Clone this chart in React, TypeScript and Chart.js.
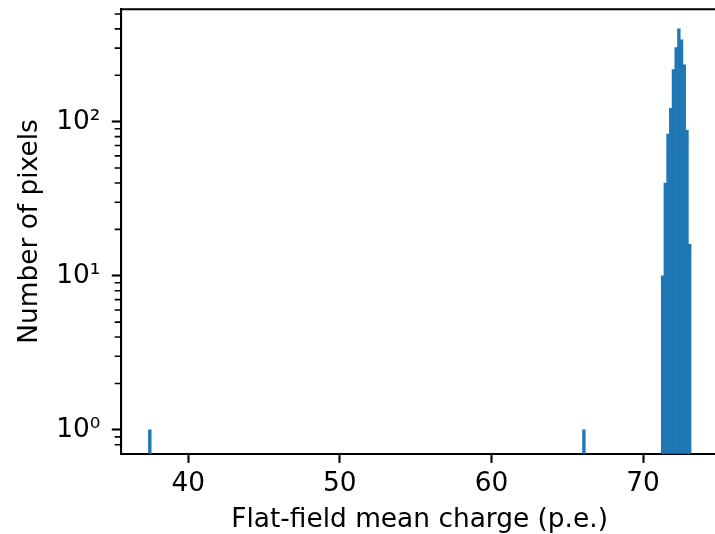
import React, { useEffect, useRef } from 'react';
import { Chart, registerables } from 'chart.js';

Chart.register(...registerables);

// Histogram bins (bin centres, width ≈ 0.179 p.e.) with non-zero counts
const binCenters = [37.46, 66.1, 71.291, 71.47, 71.649, 71.828, 72.007, 72.186, 72.365, 72.544, 72.723, 72.902, 73.081];
const pixelCounts = [1, 1, 10, 40, 83, 122, 218, 302, 400, 340, 234, 88, 16];

const xTicks = [40, 50, 60, 70];
const yMajorTicks = [1, 10, 100];
const yTickLabels = ['10⁰', '10¹', '10²'];
const yMinorTicks = [0.8, 0.9, 2, 3, 4, 5, 6, 7, 8, 9, 20, 30, 40, 50, 60, 70, 80, 90, 200, 300, 400, 500];
const xLimits = [35.56, 74.96];
const yLimits = [0.745, 536];

const xTitle = 'Flat-field mean charge (p.e.)';
const yTitle = 'Number of pixels';

const FONT = "'DejaVu Sans', sans-serif";
const BAR_COLOR = '#1f77b4';
const FS = 26.4;

const spinesPlugin = {
  id: 'spines',
  afterDraw(chart: any) {
    const { ctx, chartArea: a, scales } = chart;
    ctx.save();
    ctx.strokeStyle = '#000';
    ctx.lineWidth = 2.1;
    ctx.beginPath();
    ctx.moveTo(a.left - 1.05, a.top);
    ctx.lineTo(a.right + 1.05, a.top);
    ctx.moveTo(a.right, a.top);
    ctx.lineTo(a.right, a.bottom);
    ctx.stroke();
    const y = scales.y;
    ctx.lineWidth = 1.6;
    ctx.beginPath();
    for (const v of yMinorTicks) {
      const py = y.getPixelForValue(v);
      ctx.moveTo(a.left - 5.3 - 1, py);
      ctx.lineTo(a.left, py);
    }
    ctx.stroke();
    ctx.restore();
  },
};

export default function App() {
  const ref = useRef<HTMLCanvasElement | null>(null);

  useEffect(() => {
    if (!ref.current) return;
    const chart = new Chart(ref.current, {
      type: 'bar',
      data: {
        datasets: [
          {
            data: binCenters.map((x, i) => ({ x, y: pixelCounts[i] })),
            backgroundColor: BAR_COLOR,
            borderWidth: 0,
            barPercentage: 1,
            categoryPercentage: 1,
          } as any,
        ],
      },
      options: {
        animation: false,
        responsive: false,
        devicePixelRatio: 1,
        events: [],
        layout: { padding: { left: 0, top: 9.3, right: 722 - 718.2, bottom: 0 } },
        plugins: { legend: { display: false }, tooltip: { enabled: false } },
        scales: {
          x: {
            type: 'linear',
            min: xLimits[0],
            max: xLimits[1],
            offset: false,
            bounds: 'data',
            afterBuildTicks: (s: any) => {
              s.ticks = xTicks.map((v) => ({ value: v }));
            },
            afterFit: (s: any) => {
              s.height = 534 - 453.7;
              s.paddingLeft = 0;
              s.paddingRight = 0;
            },
            ticks: {
              autoSkip: false,
              maxRotation: 0,
              minRotation: 0,
              color: '#000',
              padding: 5.9,
              font: { family: FONT, size: FS, lineHeight: 1.2 },
              callback: (v: any) => String(v),
            },
            grid: {
              offset: false,
              drawOnChartArea: false,
              tickLength: 9.2,
              tickWidth: 2.1,
              tickColor: '#000',
            },
            border: { color: '#000', width: 2.1 },
            title: {
              display: true,
              text: xTitle,
              color: '#000',
              font: { family: FONT, size: FS, lineHeight: 1 },
              padding: { top: 0, bottom: 1.1 },
            },
          },
          y: {
            type: 'logarithmic',
            min: yLimits[0],
            max: yLimits[1],
            afterBuildTicks: (s: any) => {
              s.ticks = yMajorTicks.map((v) => ({ value: v }));
            },
            afterFit: (s: any) => {
              s.width = 121;
              s.paddingTop = 0;
              s.paddingBottom = 0;
            },
            ticks: {
              autoSkip: false,
              color: '#000',
              padding: 11.5,
              font: { family: FONT, size: FS, lineHeight: 1.2 },
              callback: (v: any) => {
                const idx = yMajorTicks.indexOf(Number(v));
                return idx >= 0 ? yTickLabels[idx] : '';
              },
            },
            grid: {
              drawOnChartArea: false,
              tickLength: 9.2,
              tickWidth: 2.1,
              tickColor: '#000',
            },
            border: { color: '#000', width: 2.1 },
            title: {
              display: true,
              text: yTitle,
              color: '#000',
              font: { family: FONT, size: FS, lineHeight: 1 },
              padding: { top: 16.6, bottom: 0 },
            },
          },
        } as any,
      },
      plugins: [spinesPlugin],
    });
    return () => chart.destroy();
  }, []);

  return (
    <div
      style={{
        position: 'fixed',
        left: 0,
        top: 0,
        width: 715,
        height: 534,
        overflow: 'hidden',
        background: '#fff',
      }}
    >
      <canvas ref={ref} width={722} height={534} style={{ display: 'block', width: 722, height: 534 }} />
    </div>
  );
}
